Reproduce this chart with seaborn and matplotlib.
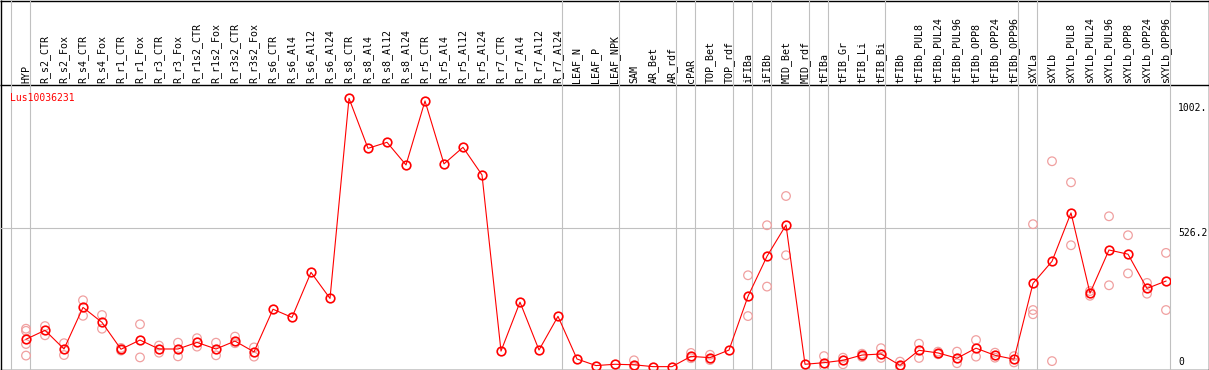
import numpy as np
import pandas as pd
import matplotlib
matplotlib.use("Agg")
import matplotlib.pyplot as plt
import seaborn as sns
from matplotlib.lines import Line2D

# ---------------- data ----------------
categories = [
    "HYP", "R_s2_CTR", "R_s2_Fox", "R_s4_CTR", "R_s4_Fox", "R_r1_CTR", "R_r1_Fox",
    "R_r3_CTR", "R_r3_Fox", "R_r1s2_CTR", "R_r1s2_Fox", "R_r3s2_CTR", "R_r3s2_Fox",
    "R_s6_CTR", "R_s6_Al4", "R_s6_Al12", "R_s6_Al24", "R_s8_CTR", "R_s8_Al4",
    "R_s8_Al12", "R_s8_Al24", "R_r5_CTR", "R_r5_Al4", "R_r5_Al12", "R_r5_Al24",
    "R_r7_CTR", "R_r7_Al4", "R_r7_Al12", "R_r7_Al24", "LEAF_N", "LEAF_P", "LEAF_NPK",
    "SAM", "AR_Bet", "AR_rdf", "cPAR", "TOP_Bet", "TOP_rdf", "iFIBa", "iFIBb",
    "MID_Bet", "MID_rdf", "tFIBa", "tFIB_Gr", "tFIB_Li", "tFIB_Bi", "tFIBb",
    "tFIBb_PUL8", "tFIBb_PUL24", "tFIBb_PUL96", "tFIBb_OPP8", "tFIBb_OPP24",
    "tFIBb_OPP96", "sXYLa", "sXYLb", "sXYLb_PUL8", "sXYLb_PUL24", "sXYLb_PUL96",
    "sXYLb_OPP8", "sXYLb_OPP24", "sXYLb_OPP96",
]

mean_values = [
    105, 139, 68, 226, 169, 67, 102, 68, 68, 93, 68, 98, 57,
    219, 188, 359, 260, 1020, 830, 853, 767, 1010, 771, 834, 729, 60, 246, 64, 192,
    30, 5, 10, 8, 1, 1, 40, 35, 64,
    268, 420, 539, 10,
    16, 25, 45, 49, 6, 63, 53, 33, 71, 44, 29,
    317, 401, 585, 280, 444, 428, 298, 326,
]

replicate_values = [
    [145, 137, 87, 43], [155, 120], [90, 45], [253, 194], [197, 145], [72, 62],
    [162, 36], [81, 54], [92, 40], [109, 77], [92, 44], [115, 90], [74, 39],
    [], [], [], [], [], [], [], [], [], [], [], [], [], [], [], [],
    [], [], [], [25, 0], [], [], [53, 33], [46, 26], [],
    [348, 193], [538, 305], [649, 424], [],
    [41, 3], [35, 10], [50, 38], [71, 34], [20, 0], [88, 34], [58, 48], [58, 14],
    [102, 39], [54, 35], [41, 17],
    [542, 216, 200], [781, 22], [701, 462], [270, 288], [572, 310], [500, 355],
    [319, 278], [433, 216],
]

group_ends = [-1, 0, 28, 31, 34, 35, 37, 38, 39, 41, 42, 45, 52, 53, 60]
gridline_value = 526.2
y_ticks = [1002, 526.2, 0]
y_tick_labels = ["1002.", "526.2", "0"]
gene_id = "Lus10036231"

# ---------------- styling ----------------
W, H = 1209, 370
RED = "#FF0000"
PINK = "#F0A0A0"
GRAY = "#C0C0C0"
MONO = "DejaVu Sans Mono"

fig = plt.figure(figsize=(W / 100, H / 100), dpi=100)
fig.patch.set_facecolor("white")

# background frame (pixel coordinates)
bg = fig.add_axes([0, 0, 1, 1])
bg.set_xlim(0, W)
bg.set_ylim(H, 0)
bg.axis("off")
bg.set_zorder(0)
for xs, ys in [([0, W], [0.5, 0.5]), ([0, W], [369.5, 369.5]),
               ([0.5, 0.5], [0, H]), ([W - 0.5, W - 0.5], [0, H]),
               ([0, W], [85, 85])]:
    bg.add_line(Line2D(xs, ys, color="black", lw=1.0, solid_capstyle="butt"))

# main plotting axes: pixel x 0..1170, pixel y 85..369
top_px, bot_px, right_px = 85, 369, 1170
ax = fig.add_axes([0, (H - bot_px) / H, right_px / W, (bot_px - top_px) / H])
ax.set_zorder(1)
ax.set_facecolor("none")

rep_pos, rep_val = [], []
for i, reps in enumerate(replicate_values):
    for v in reps:
        rep_pos.append(i)
        rep_val.append(v)
rep_df = pd.DataFrame({"pos": rep_pos, "value": rep_val})
mean_df = pd.DataFrame({"pos": np.arange(len(categories)), "value": mean_values})

sns.scatterplot(data=rep_df, x="pos", y="value", ax=ax, marker="o", s=6.2 ** 2,
                color=PINK, zorder=2)
coll = ax.collections[-1]
coll.set_facecolor("none")
coll.set_edgecolor(PINK)
coll.set_linewidth(0.9)

sns.lineplot(data=mean_df, x="pos", y="value", ax=ax, color=RED, linewidth=0.8,
             marker="o", markersize=6.2, markeredgecolor=RED, markerfacecolor="none",
             markeredgewidth=1.2, zorder=3)

# scales
ax.set_xlim(-26 / 19, (right_px - 26) / 19)
ax.set_ylim(-8.0, 1070.6)

# separators and gridline
frac_top = (bot_px - 0) / (bot_px - top_px)
for g in group_ends:
    ax.axvline(g + 0.22, ymin=0, ymax=frac_top, color=GRAY, lw=0.8, clip_on=False, zorder=0.5)
ax.axhline(gridline_value, color=GRAY, lw=0.8, zorder=0.5)

# category labels on top
ax.set_xticks(np.arange(len(categories)))
ax.set_xticklabels(categories, rotation=90, fontfamily=MONO, fontsize=7.2)
ax.xaxis.tick_top()
ax.tick_params(axis="x", length=0, pad=1.4, top=True, bottom=False,
               labeltop=True, labelbottom=False)

# right-side value labels
ax.yaxis.tick_right()
ax.set_yticks(y_ticks)
ax.set_yticklabels(y_tick_labels, fontfamily=MONO, fontsize=7)
ax.tick_params(axis="y", length=0, pad=5.8, right=True, left=False)
for lab in ax.get_yticklabels():
    lab.set_va("bottom" if lab.get_text() == "0" else "top")

ax.set_xlabel("")
ax.set_ylabel("")
for s in ax.spines.values():
    s.set_visible(False)

fig.text(10 / W, 1 - 98 / H, gene_id, color=RED, fontfamily=MONO, fontsize=7,
         ha="left", va="center")

fig.savefig("out.png", dpi=100, facecolor="white")
